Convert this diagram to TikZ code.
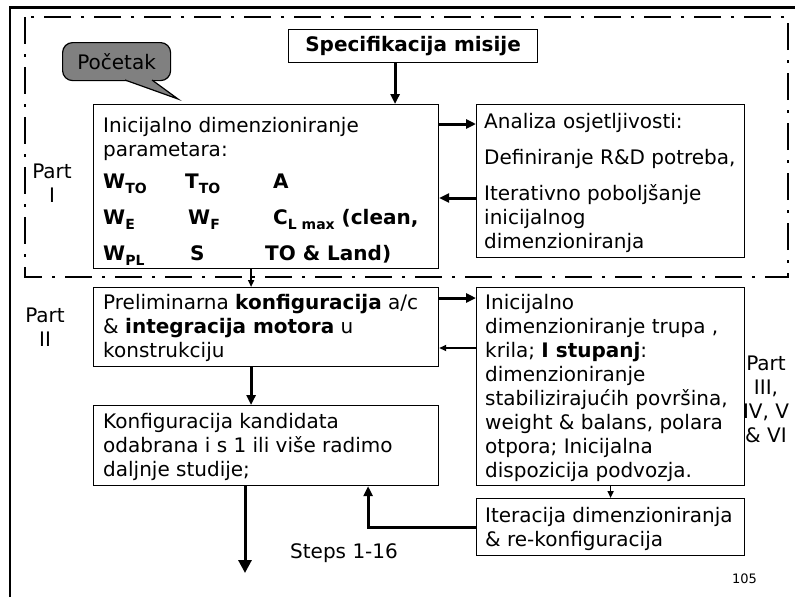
\documentclass[tikz,border=0pt]{standalone}
\usepackage{fontspec}
\setmainfont{DejaVu Sans}
\usetikzlibrary{arrows.meta}

\newcommand{\lowsub}[1]{\raisebox{-5pt}{\fontsize{14}{14}\selectfont #1}}

\begin{document}
\begin{tikzpicture}[
    x=1pt, y=-1pt,
    font=\fontsize{20}{24}\selectfont,
    box/.style={draw, line width=1.2pt, anchor=north west, inner sep=0pt},
    txt/.style={anchor=north west, inner sep=0pt, align=left},
    lbl/.style={anchor=north, inner sep=0pt, align=center},
    prm/.style={anchor=base west, inner sep=0pt,
                font=\fontsize{20}{24}\selectfont\bfseries},
    bigarr/.style={-{Triangle[length=10pt,width=9pt]}, line width=3pt},
    smallarr/.style={-{Triangle[length=7pt,width=6pt]}, line width=1.6pt},
    frame/.style={line width=2.8pt},
  ]

  \useasboundingbox (0,0) rectangle (795,597);

  %% ---- frames -------------------------------------------------------
  \draw[frame] (10,597) -- (10,7.5) -- (795,7.5);
  \draw[frame, dash pattern=on 27pt off 10pt on 3pt off 10pt]
    (25,17) rectangle (788,277);

  %% ---- Part I -------------------------------------------------------
  \node[box, minimum width=249pt, minimum height=33pt,
        font=\fontsize{20}{24}\selectfont\bfseries] (spec) at (288,29)
        {Specifikacija misije};

  \node[box, fill=gray, rounded corners=10pt,
        minimum width=108pt, minimum height=38pt] (start) at (62,42) {Početak};
  \fill[gray] (125,78) -- (125,80) -- (178,99) -- (152,80) -- (152,78) -- cycle;
  \draw[line width=1.2pt] (125,80) -- (178,99) -- (152,80);

  \node[box, minimum width=345pt, minimum height=164pt] (init) at (93,104) {};
  \node[txt] (initT) at (103,115.2)
    {\strut Inicijalno dimenzioniranje\\parametara:};
  \node[prm] (wto)    at (103,188) {W\lowsub{TO}};
  \node[prm] (tto)    at (185,188) {T\lowsub{TO}};
  \node[prm] (aspect) at (273,188) {A};
  \node[prm] (we)     at (103,224) {W\lowsub{E}};
  \node[prm] (wf)     at (188,224) {W\lowsub{F}};
  \node[prm] (clmax)  at (273,224) {C\lowsub{L max} (clean,};
  \node[prm] (wpl)    at (103,260) {W\lowsub{PL}};
  \node[prm] (sref)   at (190,260) {S};
  \node[prm] (toland) at (265,260) {TO \& Land)};

  \node[box, minimum width=268pt, minimum height=153pt] (ana) at (476,104) {};
  \node[txt] (anaT) at (484,111.2)
    {\strut Analiza osjetljivosti:\\[12pt]Definiranje R\&D potreba,\\[12pt]%
     Iterativno poboljšanje\\inicijalnog\\dimenzioniranja};

  \node[lbl] (partI) at (52,161.2) {\strut Part\\I};

  \draw[bigarr] ([xshift=-18pt]spec.south) -- ([xshift=-18pt]spec.south |- init.north);
  \draw[bigarr] ([yshift=-20pt]init.north east) -- ([yshift=-20pt]init.north east -| ana.west);
  \draw[bigarr] ([yshift=-94pt]ana.north west) -- ([yshift=-94pt]ana.north west -| init.east);

  %% ---- Part II ------------------------------------------------------
  \node[box, minimum width=345pt, minimum height=79pt] (prelim) at (93,287) {};
  \node[txt] (prelimT) at (103,292.2)
    {\strut Preliminarna \textbf{konfiguracija} a/c\\%
     \& \textbf{integracija motora} u\\konstrukciju};

  \node[lbl] (partII) at (45,305.2) {\strut Part\\II};

  \node[box, minimum width=345pt, minimum height=80pt] (kand) at (93,405) {};
  \node[txt] (kandT) at (103,411.2)
    {\strut Konfiguracija kandidata\\odabrana i s 1 ili više radimo\\daljnje studije;};

  \draw[smallarr] ([xshift=-15pt]init.south) -- ([xshift=-15pt]init.south |- prelim.north);
  \draw[bigarr] ([xshift=-15pt]prelim.south) -- ([xshift=-15pt]prelim.south |- kand.north);

  %% ---- Part III - VI ------------------------------------------------
  \node[box, minimum width=268pt, minimum height=198pt] (trup) at (476,287) {};
  \node[txt] (trupT) at (485,292.2)
    {\strut Inicijalno\\dimenzioniranje trupa ,\\krila; \textbf{I stupanj}:\\%
     dimenzioniranje\\stabilizirajućih površina,\\weight \& balans, polara\\%
     otpora; Inicijalna\\dispozicija podvozja.};

  \node[lbl] (partIII) at (766,353.2) {\strut Part\\III,\\IV, V\\\& VI};

  \node[box, minimum width=268pt, minimum height=57pt] (iter) at (476,498) {};
  \node[txt] (iterT) at (485,505.2)
    {\strut Iteracija dimenzioniranja\\\& re-konfiguracija};

  \draw[bigarr] ([yshift=-11pt]prelim.north east) -- ([yshift=-11pt]prelim.north east -| trup.west);
  \draw[smallarr] ([yshift=-61pt]trup.north west) -- ([yshift=-61pt]trup.north west -| prelim.east);
  \draw[smallarr] (trup.south) -- (iter.north);
  \draw[bigarr] (iter.west) -| ([xshift=102pt]kand.south);

  %% ---- way out ------------------------------------------------------
  \coordinate (out) at (245,573);
  \draw[line width=3pt, -{Triangle[length=13pt,width=13pt]}] (kand.south -| out) -- (out);
  \node[anchor=base west, inner sep=0pt] (steps) at (290,558) {Steps 1-16};

  \node[anchor=base west, inner sep=0pt, font=\fontsize{13}{15}\selectfont] (page) at (732,583) {105};

\end{tikzpicture}
\end{document}
